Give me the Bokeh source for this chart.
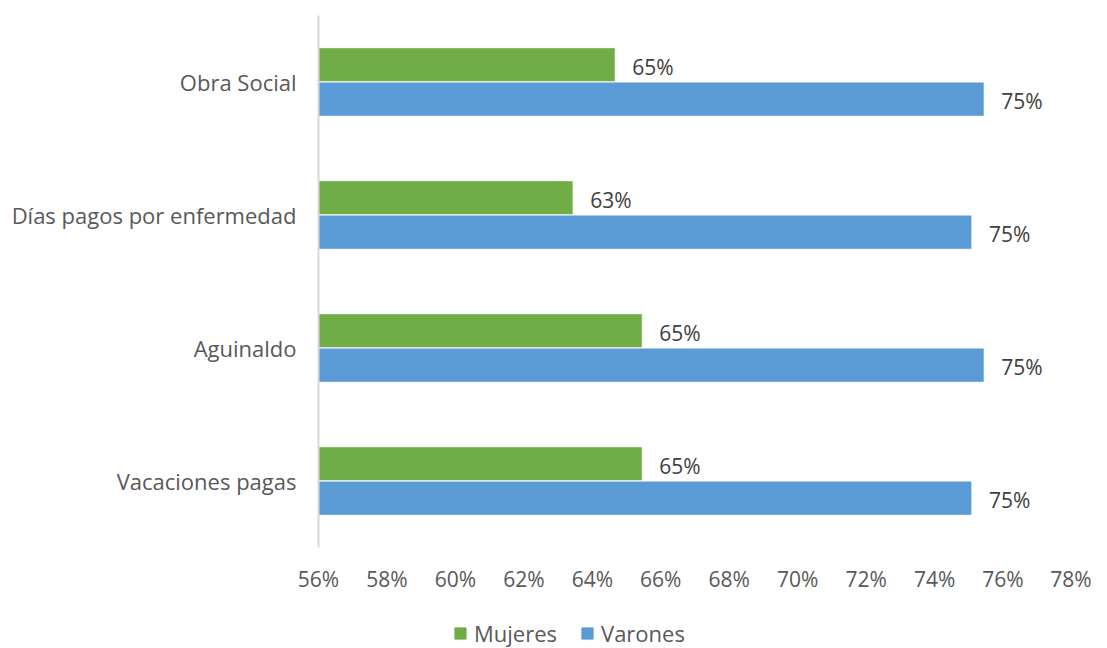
from bokeh.plotting import figure
from bokeh.layouts import column
from bokeh.models import ColumnDataSource, FactorRange, Range1d, Legend, LegendItem, FixedTicker
from bokeh.transform import dodge
from bokeh.core.properties import value
from bokeh.embed import file_html
from bokeh.resources import INLINE

categories = ["Vacaciones pagas", "Aguinaldo", "Días pagos por enfermedad", "Obra Social"]
mujeres = [65.46, 65.46, 63.44, 64.67]
varones = [75.09, 75.45, 75.09, 75.45]
x_ticks = [56, 58, 60, 62, 64, 66, 68, 70, 72, 74, 76, 78]
series_names = ["Mujeres", "Varones"]
series_colors = ["#70AD47", "#5B9BD5"]

FONT = "Open Sans"
src = ColumnDataSource(dict(
    cat=categories,
    muj=mujeres,
    var=varones,
    muj_lbl=[f"{round(v)}%" for v in mujeres],
    var_lbl=[f"{round(v)}%" for v in varones],
    base=[56] * len(categories),
))

p = figure(width=1091, height=600, y_range=FactorRange(*categories, range_padding=0), x_range=Range1d(56, 78),
           output_backend="svg", toolbar_location=None,
           min_border_left=318, min_border_right=20, min_border_top=15, min_border_bottom=53)
p.outline_line_color = None
p.grid.grid_line_color = None

p.hbar(y=dodge("cat", 0.129, range=p.y_range), left="base", right="muj", height=0.258,
       source=src, fill_color=series_colors[0], line_color="white", line_width=1)
p.hbar(y=dodge("cat", -0.129, range=p.y_range), left="base", right="var", height=0.258,
       source=src, fill_color=series_colors[1], line_color="white", line_width=1)

p.text(x="muj", y=dodge("cat", 0.115, range=p.y_range), text="muj_lbl", source=src,
       x_offset=17, text_align="left", text_baseline="middle",
       text_font=value(FONT), text_font_size="21px", text_color="#404040")
p.text(x="var", y=dodge("cat", -0.14, range=p.y_range), text="var_lbl", source=src,
       x_offset=17, text_align="left", text_baseline="middle",
       text_font=value(FONT), text_font_size="21px", text_color="#404040")

p.xaxis.ticker = FixedTicker(ticks=x_ticks)
p.xaxis.major_label_overrides = {t: f"{t}%" for t in x_ticks}
p.xaxis.axis_line_color = None
p.xaxis.major_tick_line_color = None
p.xaxis.minor_tick_line_color = None
p.xaxis.major_tick_in = 0
p.xaxis.major_tick_out = 0
p.xaxis.major_label_standoff = 17
p.xaxis.major_label_text_font = FONT
p.xaxis.major_label_text_font_size = "21px"
p.xaxis.major_label_text_color = "#595959"

p.yaxis.axis_line_color = "#D9D9D9"
p.yaxis.axis_line_width = 2
p.yaxis.major_tick_line_color = None
p.yaxis.minor_tick_line_color = None
p.yaxis.major_tick_in = 0
p.yaxis.major_tick_out = 0
p.yaxis.major_label_standoff = 22
p.yaxis.major_label_text_font = FONT
p.yaxis.major_label_text_font_size = "22px"
p.yaxis.major_label_text_color = "#595959"

# legend strip
p2 = figure(width=1091, height=48, x_range=Range1d(0, 1), y_range=Range1d(0, 1),
            output_backend="svg", toolbar_location=None, min_border=0)
p2.axis.visible = False
p2.grid.grid_line_color = None
p2.outline_line_color = None
items = []
for name, col in zip(series_names, series_colors):
    r = p2.hbar(y=[-10], left=[0], right=[1], height=0.5, fill_color=col, line_color=col)
    items.append(LegendItem(label=name, renderers=[r]))
legend = Legend(items=items, orientation="horizontal", location=(135, 0), border_line_color=None,
                background_fill_alpha=0,
                label_text_font=FONT, label_text_font_size="22px", label_text_color="#595959",
                glyph_width=14, glyph_height=14, spacing=23, label_standoff=7, padding=0, margin=0)
p2.add_layout(legend, "center")

open("out.html", "w").write(file_html(column(p, p2, spacing=0), INLINE))
